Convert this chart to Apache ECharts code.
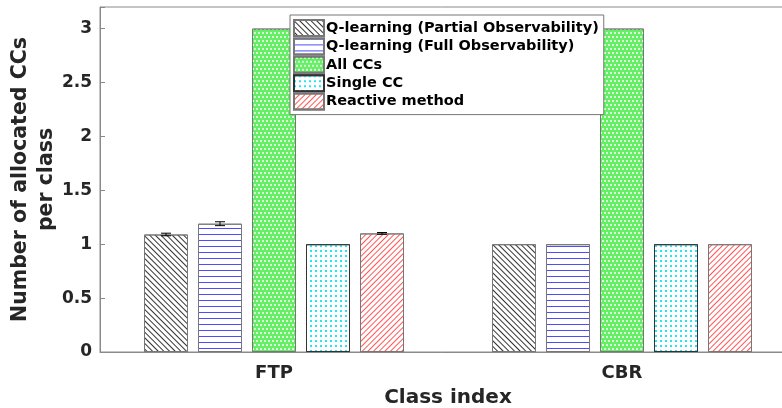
<!DOCTYPE html>
<html>
<head>
<meta charset="utf-8">
<script src="https://cdn.jsdelivr.net/npm/echarts@6/dist/echarts.min.js"></script>
<style>
  html, body { margin: 0; padding: 0; background: #fff; }
  #chart { width: 782px; height: 408px; }
</style>
</head>
<body>
<div id="chart"></div>
<script>
// values
const categories = ["FTP", "CBR"];
const seriesNames = [
  "Q-learning (Partial Observability)",
  "Q-learning (Full Observability)",
  "All CCs",
  "Single CC",
  "Reactive method"
];
const partialObs = [1.09, 1.0];
const partialErr = [0.012, 0];
const fullObs = [1.19, 1.0];
const fullErr = [0.018, 0];
const allCCs = [3, 3];
const singleCC = [1, 1];
const reactive = [1.10, 1.0];
const reactiveErr = [0.008, 0];
const yTicks = [0, 0.5, 1, 1.5, 2, 2.5, 3];

const BAR_W = 44;
const BAR_GAP = 10;
const FONT = "DejaVu Sans";

const values = [partialObs, fullObs, allCCs, singleCC, reactive];
const errors = [partialErr, fullErr, null, null, reactiveErr];

const styles = [
  { color: "#fff", border: "#777",
    decal: { symbol: "rect", color: "#333", dashArrayX: [1, 0], dashArrayY: [1, 3], rotation: Math.PI / 4 } },
  { color: "#fff", border: "#777",
    decal: { symbol: "rect", color: "#4d4dff", dashArrayX: [1, 0], dashArrayY: [1, 5], rotation: 0 } },
  { color: "#66ee66", border: "#777",
    decal: { symbol: "rect", color: "#d8fbd8", dashArrayX: [[2, 2], [0, 2, 2, 0]], dashArrayY: [2, 2], rotation: 0 } },
  { color: "#fff", border: "#333",
    decal: { symbol: "rect", color: "#22e6f0", dashArrayX: [1.5, 2.5], dashArrayY: [1.5, 2.5], rotation: 0 } },
  { color: "#fff", border: "#777",
    decal: { symbol: "rect", color: "#f55", dashArrayX: [1, 0], dashArrayY: [1, 2.5], rotation: -Math.PI / 4 } }
];

const barSeries = seriesNames.map((name, i) => ({
  name,
  type: "bar",
  data: values[i],
  barWidth: BAR_W,
  barGap: (BAR_GAP / BAR_W * 100) + "%",
  itemStyle: {
    color: styles[i].color,
    borderColor: styles[i].border,
    borderWidth: 1,
    decal: styles[i].decal
  },
  emphasis: { disabled: true }
}));

// error bar items: [category index, series index, value, error]
const errData = [];
errors.forEach((errs, s) => {
  if (!errs) return;
  errs.forEach((e, c) => { if (e > 0) errData.push([c, s, values[s][c], e]); });
});

const errorSeries = {
  type: "custom",
  silent: true,
  z: 5,
  data: errData,
  encode: { x: 0, y: 2 },
  renderItem: function (params, api) {
    const c = api.value(0), s = api.value(1), v = api.value(2), e = api.value(3);
    const offset = (s - (seriesNames.length - 1) / 2) * (BAR_W + BAR_GAP);
    const hi = api.coord([c, v + e]);
    const lo = api.coord([c, v - e]);
    const x = hi[0] + offset;
    const cap = 5;
    const st = { stroke: "#000", lineWidth: 1 };
    return {
      type: "group",
      children: [
        { type: "line", shape: { x1: x, y1: hi[1], x2: x, y2: lo[1] }, style: st },
        { type: "line", shape: { x1: x - cap, y1: hi[1], x2: x + cap, y2: hi[1] }, style: st },
        { type: "line", shape: { x1: x - cap, y1: lo[1], x2: x + cap, y2: lo[1] }, style: st }
      ]
    };
  }
};

const chart = echarts.init(document.getElementById("chart"), null, { renderer: "canvas" });
chart.setOption({
  animation: false,
  backgroundColor: "#fff",
  textStyle: { fontFamily: FONT },
  grid: {
    left: 100, top: 7, width: 696, height: 345,
    containLabel: false, outerBoundsMode: "none",
    show: true, borderColor: "#8a8a8a", borderWidth: 1, backgroundColor: "#fff"
  },
  legend: {
    orient: "vertical",
    left: 290, top: 15,
    data: seriesNames,
    icon: "rect",
    itemWidth: 30, itemHeight: 16, itemGap: 0.4,
    padding: [4, 5, 4, 3],
    backgroundColor: "#fff",
    borderColor: "#777", borderWidth: 1,
    textStyle: { fontFamily: FONT, fontWeight: "bold", fontSize: 14.5, color: "#000", padding: [0, 0, 0, -3] },
    selectedMode: false
  },
  xAxis: [{
    type: "category",
    data: categories,
    axisLine: { lineStyle: { color: "#8a8a8a" } },
    axisTick: { inside: true, alignWithLabel: true, length: 5, lineStyle: { color: "#666" } },
    axisLabel: { fontFamily: FONT, fontWeight: "bold", fontSize: 18, color: "#262626", margin: 12 },
    name: "Class index",
    nameLocation: "middle",
    nameGap: 36,
    nameMoveOverlap: false,
    nameTextStyle: { fontFamily: FONT, fontWeight: "bold", fontSize: 20, color: "#262626" }
  }, {
    type: "category",
    data: categories,
    position: "top",
    axisLine: { show: false },
    axisTick: { inside: true, alignWithLabel: true, length: 5, lineStyle: { color: "#888" } },
    axisLabel: { show: false }
  }],
  yAxis: {
    type: "value",
    min: 0, max: 3.2, interval: 0.5,
    splitLine: { show: false },
    axisLine: { show: true, lineStyle: { color: "#8a8a8a" } },
    axisTick: { show: true, inside: true, length: 5, lineStyle: { color: "#888" } },
    axisLabel: {
      fontFamily: FONT, fontWeight: "bold", fontSize: 17, color: "#262626", margin: 8,
      formatter: v => yTicks.includes(v) ? String(v) : ""
    },
    name: "Number of allocated CCs\nper class",
    nameLocation: "middle",
    nameGap: 40,
    nameMoveOverlap: false,
    nameTextStyle: { fontFamily: FONT, fontWeight: "bold", fontSize: 20.5, color: "#262626", lineHeight: 26, align: "center" }
  },
  series: [...barSeries, errorSeries]
});
</script>
</body>
</html>
